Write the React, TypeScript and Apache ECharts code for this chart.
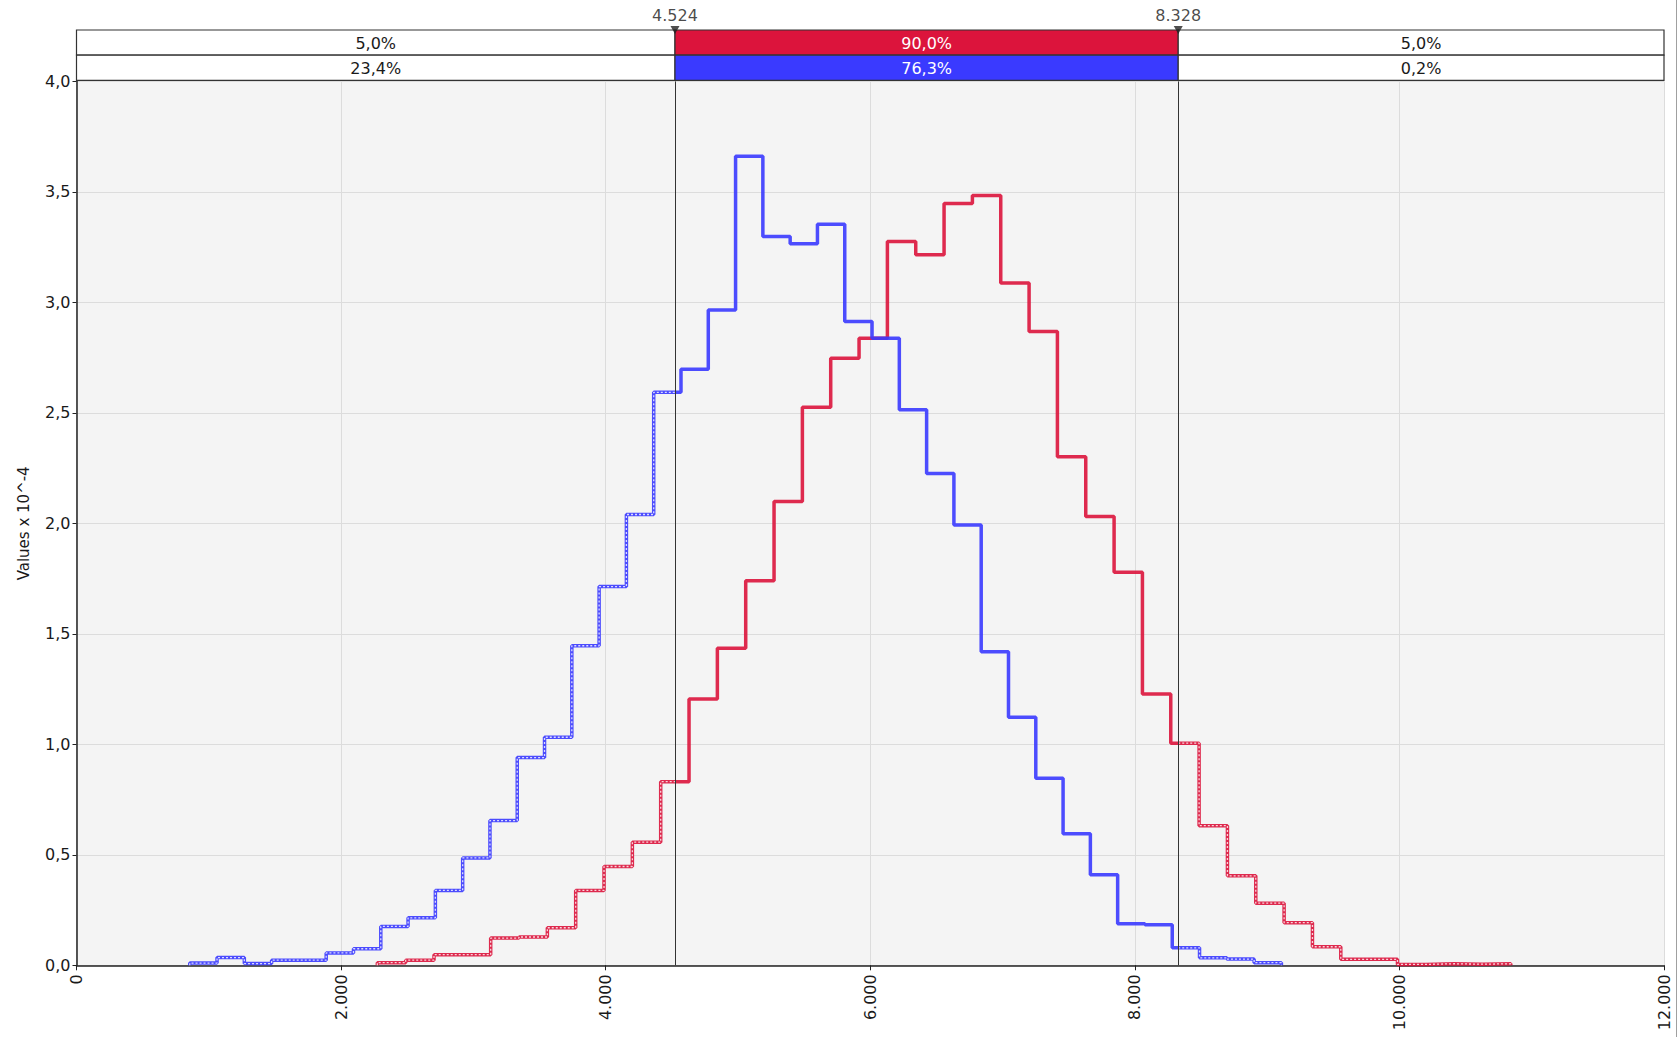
import React, { useEffect, useRef } from "react";
import * as echarts from "echarts";

// ---- data ----
const blueMin = 856;
const blueBinWidth = 206.3;
const blueHeights = [
  0.01, 0.035, 0.008, 0.023, 0.023, 0.056, 0.075, 0.176, 0.215, 0.339,
  0.486, 0.655, 0.94, 1.032, 1.446, 1.714, 2.04, 2.593, 2.697, 2.966,
  3.661, 3.298, 3.265, 3.353, 2.913, 2.838, 2.514, 2.226, 1.993, 1.419,
  1.122, 0.846, 0.595, 0.41, 0.188, 0.184, 0.079, 0.034, 0.028, 0.012,
];
const redMin = 2274;
const redBinWidth = 214.2;
const redHeights = [
  0.012, 0.023, 0.048, 0.048, 0.123, 0.128, 0.17, 0.339, 0.447, 0.557,
  0.831, 1.205, 1.435, 1.74, 2.099, 2.525, 2.747, 2.838, 3.276, 3.215,
  3.447, 3.484, 3.088, 2.868, 2.301, 2.031, 1.779, 1.228, 1.005, 0.632,
  0.405, 0.281, 0.193, 0.084, 0.027, 0.027, 0.004, 0.007, 0.005, 0.007,
];
const lowerCut = 4524;
const upperCut = 8328;
const redShares = ["5,0%", "90,0%", "5,0%"];
const blueShares = ["23,4%", "76,3%", "0,2%"];
const xMin = 0;
const xMax = 12000;
const xStep = 2000;
const yMin = 0;
const yMax = 4;
const yStep = 0.5;
const yAxisName = "Values x 10^-4";

const RED = "#dc143c";
const BLUE = "#3a3aff";
const FONT = "DejaVu Sans";
const TXT = "#1a1a1a";

type Pt = [number, number];

function stepPoints(min: number, width: number, heights: number[]): Pt[] {
  const pts: Pt[] = [[min, 0]];
  heights.forEach((h, i) => {
    pts.push([min + i * width, h]);
    pts.push([min + (i + 1) * width, h]);
  });
  pts.push([min + heights.length * width, 0]);
  return pts;
}

function clip(pts: Pt[], lo: number, hi: number): Pt[] {
  const out: Pt[] = [];
  for (let i = 0; i < pts.length - 1; i++) {
    const [x0, y0] = pts[i];
    const [x1, y1] = pts[i + 1];
    if (x0 === x1) {
      if (x0 >= lo && x0 <= hi) out.push([x0, y0], [x1, y1]);
      continue;
    }
    const a = Math.max(lo, Math.min(x0, x1));
    const b = Math.min(hi, Math.max(x0, x1));
    if (a > b) continue;
    out.push([a, y0], [b, y1]);
  }
  return out;
}

function thousands(v: number): string {
  const s = String(Math.round(v));
  return s.replace(/\B(?=(\d{3})+(?!\d))/g, ".");
}

export default function App() {
  const ref = useRef<HTMLDivElement>(null);
  useEffect(() => {
    if (!ref.current) return;
    const chart = echarts.init(ref.current, undefined, { renderer: "svg" });
    const bluePts = stepPoints(blueMin, blueBinWidth, blueHeights);
    const redPts = stepPoints(redMin, redBinWidth, redHeights);

    const hatch = (data: Pt[]) => ({
      type: "line",
      data,
      showSymbol: false,
      symbol: "none",
      silent: true,
      z: 4,
      lineStyle: { color: "#ffffff", width: 1.3, type: [2, 2], opacity: 0.8 },
    });

    const bandRows = [
      { shares: redShares, fill: RED, low: 1, high: 2 },
      { shares: blueShares, fill: BLUE, low: 0, high: 1 },
    ];
    const bandData: number[][] = [];
    const bandMeta: { text: string; fill: string; color: string }[] = [];
    bandRows.forEach((r) => {
      const bounds = [xMin, lowerCut, upperCut, xMax];
      for (let k = 0; k < 3; k++) {
        bandData.push([bounds[k], bounds[k + 1], r.low, r.high]);
        bandMeta.push({
          text: r.shares[k],
          fill: k === 1 ? r.fill : "#ffffff",
          color: k === 1 ? "#ffffff" : TXT,
        });
      }
    });

    const option: any = {
      animation: false,
      backgroundColor: "#ffffff",
      grid: [
        {
          left: 76.5,
          right: 16,
          top: 81.4,
          bottom: 71.7,
          show: true,
          backgroundColor: "#f4f4f4",
          borderWidth: 0,
        },
        { left: 76.5, right: 16, top: 30, height: 50.4, show: false },
      ],
      xAxis: [
        {
          type: "value",
          gridIndex: 0,
          min: xMin,
          max: xMax,
          interval: xStep,
          axisLine: { show: true, onZero: false, lineStyle: { color: "#222", width: 1.5 } },
          axisTick: { show: true, length: 5, lineStyle: { color: "#222" } },
          splitLine: { show: true, lineStyle: { color: "#dcdcdc", width: 1 } },
          axisLabel: {
            rotate: 90,
            margin: 9,
            color: TXT,
            fontFamily: FONT,
            fontSize: 16,
            formatter: (v: number) => thousands(v),
          },
        },
        { type: "value", gridIndex: 1, min: xMin, max: xMax, show: false },
      ],
      yAxis: [
        {
          type: "value",
          gridIndex: 0,
          min: yMin,
          max: yMax,
          interval: yStep,
          name: yAxisName,
          nameLocation: "middle",
          nameGap: 45,
          nameTextStyle: { color: TXT, fontFamily: FONT, fontSize: 15 },
          axisLine: { show: true, lineStyle: { color: "#222", width: 1.5 } },
          axisTick: { show: true, length: 4, lineStyle: { color: "#222" } },
          splitLine: { show: true, lineStyle: { color: "#dcdcdc", width: 1 } },
          axisLabel: {
            margin: 6,
            color: TXT,
            fontFamily: FONT,
            fontSize: 16,
            formatter: (v: number) => v.toFixed(1).replace(".", ","),
          },
        },
        { type: "value", gridIndex: 1, min: 0, max: 2, show: false },
      ],
      series: [
        {
          type: "line",
          data: redPts,
          showSymbol: false,
          symbol: "none",
          z: 2,
          lineStyle: { color: RED, width: 3.5, opacity: 0.9 },
          markLine: {
            silent: true,
            symbol: "none",
            label: { show: false },
            lineStyle: { color: "#333", width: 1, type: "solid" },
            data: [{ xAxis: lowerCut }, { xAxis: upperCut }],
          },
        },
        {
          type: "line",
          data: bluePts,
          showSymbol: false,
          symbol: "none",
          z: 3,
          lineStyle: { color: BLUE, width: 3.5, opacity: 0.9 },
        },
        hatch(clip(redPts, -Infinity, lowerCut)),
        hatch(clip(redPts, upperCut, Infinity)),
        hatch(clip(bluePts, -Infinity, lowerCut)),
        hatch(clip(bluePts, upperCut, Infinity)),
        {
          type: "custom",
          xAxisIndex: 1,
          yAxisIndex: 1,
          silent: true,
          z: 5,
          data: bandData,
          renderItem: (params: any, api: any) => {
            const p0 = api.coord([api.value(0), api.value(3)]);
            const p1 = api.coord([api.value(1), api.value(2)]);
            const meta = bandMeta[params.dataIndex];
            return {
              type: "group",
              children: [
                {
                  type: "rect",
                  shape: { x: p0[0], y: p0[1], width: p1[0] - p0[0], height: p1[1] - p0[1] },
                  style: { fill: meta.fill, stroke: "#333", lineWidth: 1.2 },
                },
                {
                  type: "text",
                  x: (p0[0] + p1[0]) / 2,
                  y: (p0[1] + p1[1]) / 2 + 1,
                  style: {
                    text: meta.text,
                    fill: meta.color,
                    font: `16px "${FONT}"`,
                    align: "center",
                    verticalAlign: "middle",
                  },
                },
              ],
            };
          },
        },
        {
          type: "scatter",
          xAxisIndex: 1,
          yAxisIndex: 1,
          silent: true,
          z: 6,
          symbol: "triangle",
          symbolRotate: 180,
          symbolSize: [9, 8],
          symbolOffset: [0, 0],
          itemStyle: { color: "#222" },
          data: [[lowerCut, 2], [upperCut, 2]],
          label: {
            show: true,
            position: "top",
            distance: 3,
            color: TXT,
            fontFamily: FONT,
            fontSize: 16,
            formatter: (p: any) => thousands(p.value[0]),
          },
        },
      ],
      graphic: [
        {
          type: "line",
          shape: { x1: 1676.5, y1: 0, x2: 1676.5, y2: 1037 },
          style: { stroke: "#a0a0a0", lineWidth: 1 },
          silent: true,
        },
      ],
    };
    chart.setOption(option);
    return () => chart.dispose();
  }, []);
  return (
    <div
      ref={ref}
      style={{ position: "absolute", left: 0, top: 0, width: 1680, height: 1037 }}
    />
  );
}
